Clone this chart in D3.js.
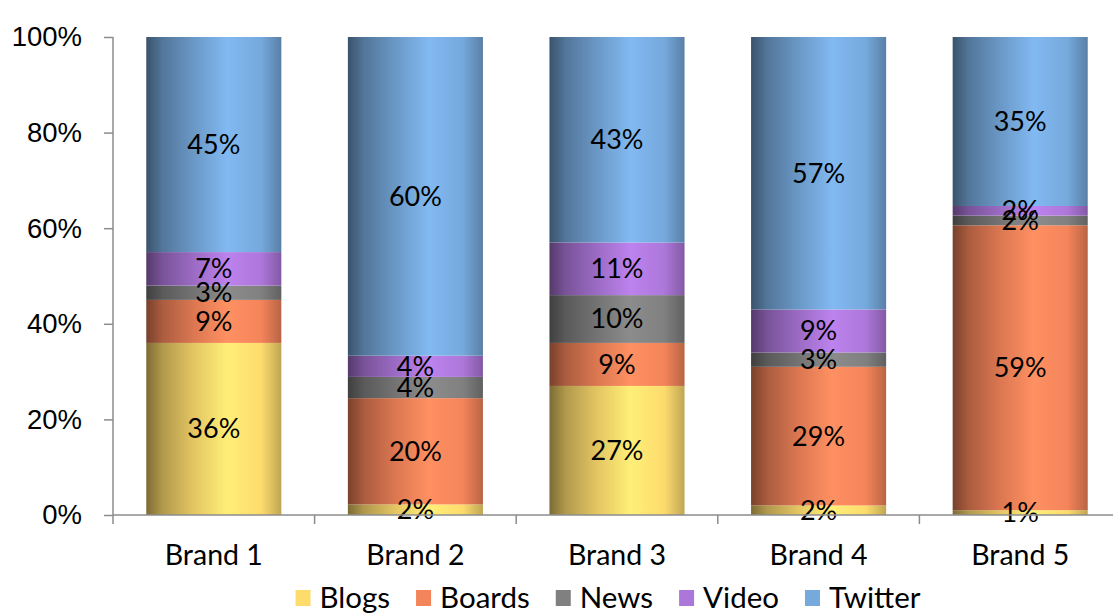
<!DOCTYPE html>
<html>
<head>
<meta charset="utf-8">
<script src="https://cdn.jsdelivr.net/npm/d3@7"></script>
<style>
  html, body { margin: 0; padding: 0; background: #fff; }
  svg { display: block; font-family: Lato, "Noto Sans", sans-serif; }
</style>
</head>
<body>
<svg id="chart" width="1113" height="614"></svg>
<script>
// Brands on the x axis
const brands = ["Brand 1", "Brand 2", "Brand 3", "Brand 4", "Brand 5"];
// Share of mentions by channel (percent, per brand)
const blogs   = [36, 2, 27, 2, 1];
const boards  = [9, 20, 9, 29, 59];
const news    = [3, 4, 10, 3, 2];
const video   = [7, 4, 11, 9, 2];
const twitter = [45, 60, 43, 57, 35];
const seriesNames = ["Blogs", "Boards", "News", "Video", "Twitter"];
const seriesColors = ["#fddb6d", "#f4845a", "#808080", "#ad77da", "#76a9dc"];
const yTicks = [0, 0.2, 0.4, 0.6, 0.8, 1.0];

const seriesValues = [blogs, boards, news, video, twitter];
const rows = brands.map((b, i) => {
  const r = { brand: b };
  seriesNames.forEach((s, k) => { r[s] = seriesValues[k][i]; });
  return r;
});

const svg = d3.select("#chart");
const plotLeft = 113, plotRight = 1121, plotTop = 37, plotBottom = 515;

const x = d3.scaleBand().domain(brands).range([plotLeft, plotRight]).paddingInner(0.33).paddingOuter(0.165);
const y = d3.scaleLinear().domain([0, 1]).range([plotBottom, plotTop]);

const stacked = d3.stack().keys(seriesNames).offset(d3.stackOffsetExpand)(rows);

// horizontal shading for each series
const defs = svg.append("defs");
seriesNames.forEach((s, k) => {
  const c = d3.color(seriesColors[k]);
  const g = defs.append("linearGradient").attr("id", "grad" + k)
    .attr("x1", "0%").attr("x2", "100%").attr("y1", "0%").attr("y2", "0%");
  const stops = [
    [0, c.darker(2.0)],
    [0.12, c.darker(1.0)],
    [0.35, c.darker(0.3)],
    [0.6, c.brighter(0.25)],
    [0.85, c],
    [0.97, c.darker(0.6)],
    [1, c.darker(0.8)]
  ];
  stops.forEach(([o, col]) => g.append("stop").attr("offset", o).attr("stop-color", col.formatHex()));
});

// stacked columns
const layers = svg.append("g").selectAll("g").data(stacked).join("g")
  .attr("fill", (d, k) => `url(#grad${k})`);
layers.selectAll("rect").data(d => d).join("rect")
  .attr("x", d => x(d.data.brand))
  .attr("width", x.bandwidth())
  .attr("y", d => y(d[1]))
  .attr("height", d => y(d[0]) - y(d[1]));

// value labels, centred in each segment
const labels = svg.append("g").attr("font-size", 27).attr("fill", "#000").attr("text-anchor", "middle");
stacked.forEach((layer, k) => {
  layer.forEach(d => {
    labels.append("text")
      .attr("x", x(d.data.brand) + x.bandwidth() / 2)
      .attr("y", (y(d[0]) + y(d[1])) / 2)
      .attr("dy", "0.35em")
      .text(d.data[seriesNames[k]] + "%");
  });
});

// y axis
const yAxis = svg.append("g").attr("transform", `translate(${plotLeft},0)`)
  .call(d3.axisLeft(y).tickValues(yTicks).tickFormat(d3.format(".0%")).tickSize(9).tickPadding(22));
yAxis.select(".domain").attr("stroke", "#8c8c8c").attr("stroke-width", 1.5).attr("d", `M0,${plotTop}V${plotBottom}`);
yAxis.selectAll(".tick line").attr("stroke", "#8c8c8c").attr("stroke-width", 1.5);
yAxis.selectAll(".tick text").attr("font-size", 27.5).attr("fill", "#000");

// x axis
const xAxisG = svg.append("g");
xAxisG.append("line").attr("x1", plotLeft).attr("x2", 1113).attr("y1", plotBottom).attr("y2", plotBottom)
  .attr("stroke", "#8c8c8c").attr("stroke-width", 1.5);
const step = x.step();
const boundaries = d3.range(brands.length).map(i => x(brands[i]) - x.paddingOuter() * step);
xAxisG.selectAll("line.tk").data(boundaries).join("line").attr("class", "tk")
  .attr("x1", d => d).attr("x2", d => d).attr("y1", plotBottom).attr("y2", plotBottom + 9)
  .attr("stroke", "#8c8c8c").attr("stroke-width", 1.5);
xAxisG.selectAll("text").data(brands).join("text")
  .attr("x", d => x(d) + x.bandwidth() / 2)
  .attr("y", 565)
  .attr("text-anchor", "middle").attr("font-size", 28.5).attr("fill", "#000")
  .text(d => d);

// legend
const legend = svg.append("g");
let cx = 0;
seriesNames.forEach((s, k) => {
  const it = legend.append("g").attr("transform", `translate(${cx},0)`);
  it.append("rect").attr("x", 0).attr("y", -8).attr("width", 15).attr("height", 16).attr("fill", seriesColors[k]);
  const t = it.append("text").attr("x", 24).attr("y", 0).attr("dy", "0.35em")
    .attr("font-size", 29.5).attr("fill", "#000").text(s);
  cx += 24 + t.node().getComputedTextLength() + 26;
});
const legendWidth = cx - 26;
legend.attr("transform", `translate(${608 - legendWidth / 2},598)`);
</script>
</body>
</html>
